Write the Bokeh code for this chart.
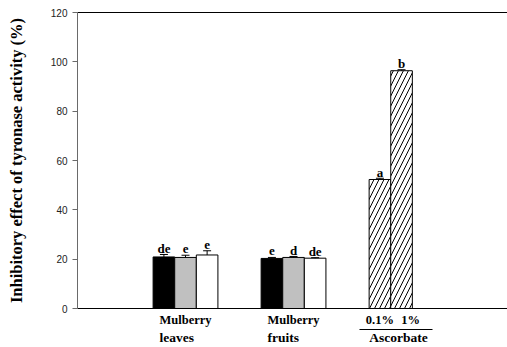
from bokeh.core.properties import value
from bokeh.embed import file_html
from bokeh.models import AllLabels, FixedTicker, LinearAxis, Range1d
from bokeh.plotting import figure
from bokeh.resources import INLINE

# Inhibition of tyrosinase activity (%), mean and SD, with significance letters
groups = ["Mulberry leaves", "Mulberry fruits", "Ascorbate"]
leaves_mean = [20.9, 20.7, 21.7]
leaves_err = [1.0, 0.9, 1.7]
leaves_sig = ["de", "e", "e"]
fruits_mean = [20.3, 20.7, 20.4]
fruits_err = [0.4, 0.4, 0.2]
fruits_sig = ["e", "d", "de"]
ascorbate_mean = [52.3, 96.4]
ascorbate_err = [0.5, 0.4]
ascorbate_sig = ["a", "b"]
ascorbate_conc = ["0.1%", "1%"]
extract_fills = ["black", "#c0c0c0", "white"]
y_ticks = [0, 20, 40, 60, 80, 100, 120]

SERIF = "Liberation Serif"
slot_offsets = [-0.2, 0.0, 0.2]
bar_width = 0.2
cap_half = 0.037

p = figure(
    width=507, height=347,
    output_backend="svg", toolbar_location=None,
    x_range=Range1d(0, 3.981), y_range=Range1d(0, 120),
    x_axis_location="above",
    min_border_left=77, min_border_right=0, min_border_top=12, min_border_bottom=37,
)
p.grid.visible = False
p.outline_line_color = None
p.background_fill_color = "white"
p.border_fill_color = "white"


def bare_axis(axis):
    axis.major_tick_line_color = None
    axis.minor_tick_line_color = None
    axis.major_tick_out = 0
    axis.major_tick_in = 0
    axis.major_label_policy = AllLabels()


# top frame line
top = p.xaxis[0]
top.ticker = FixedTicker(ticks=[])
top.axis_line_color = "black"
bare_axis(top)
top.major_label_standoff = 0

# left axis
ya = p.yaxis[0]
ya.ticker = FixedTicker(ticks=y_ticks)
ya.bounds = (0, 120)
ya.axis_line_color = "#6a6a6a"
ya.major_tick_line_color = "#6a6a6a"
ya.minor_tick_line_color = None
ya.major_tick_out = 5
ya.major_tick_in = 0
ya.major_label_standoff = 5
ya.major_label_text_font = "Liberation Sans"
ya.major_label_text_font_size = "10px"
ya.major_label_text_color = "#222222"
ya.axis_label = "Inhibitory effect of tyronase activity (%)"
ya.axis_label_standoff = 22
ya.axis_label_text_font = SERIF
ya.axis_label_text_font_style = "bold"
ya.axis_label_text_font_size = "16.5px"
ya.axis_label_text_color = "black"

# category labels: first row (with the x axis line), underline, second row
group_x = [1, 2, 3]
first_words = [g.split(" ")[0] for g in groups[:2]]
second_words = [g.split(" ")[1] for g in groups[:2]]
asc_x = [group_x[2] + slot_offsets[k] for k in range(len(ascorbate_mean))]

row1_ticks = group_x[:2] + [asc_x[0], asc_x[1] + 0.085]
row1_text = first_words + ascorbate_conc
row1 = LinearAxis(ticker=FixedTicker(ticks=row1_ticks),
                  major_label_overrides=dict(zip(row1_ticks, row1_text)))
bare_axis(row1)
row1.axis_line_color = "black"
row1.major_label_standoff = 4
row1.major_label_text_font = SERIF
row1.major_label_text_font_style = "bold"
row1.major_label_text_font_size = "12.5px"
row1.major_label_text_color = "black"
p.add_layout(row1, "below")

underline = LinearAxis(ticker=FixedTicker(ticks=[]), bounds=(2.611, 3.287))
bare_axis(underline)
underline.axis_line_color = "black"
underline.major_label_standoff = 0
p.add_layout(underline, "below")

row2_ticks = [group_x[0] - 0.081, group_x[1] - 0.095, 2.972]
row2_text = second_words + [groups[2]]
row2 = LinearAxis(ticker=FixedTicker(ticks=row2_ticks),
                  major_label_overrides=dict(zip(row2_ticks, row2_text)))
bare_axis(row2)
row2.axis_line_color = None
row2.major_label_standoff = 0
row2.major_label_text_font = SERIF
row2.major_label_text_font_style = "bold"
row2.major_label_text_font_size = "13.5px"
row2.major_label_text_color = "black"
p.add_layout(row2, "below")

# extract bars (leaves, fruits): three treatments per group
ext_x, ext_top, ext_err, ext_sig, ext_fill = [], [], [], [], []
for g, (means, errs, sigs) in enumerate(
        [(leaves_mean, leaves_err, leaves_sig), (fruits_mean, fruits_err, fruits_sig)]):
    for k in range(len(means)):
        ext_x.append(group_x[g] + slot_offsets[k])
        ext_top.append(means[k])
        ext_err.append(errs[k])
        ext_sig.append(sigs[k])
        ext_fill.append(extract_fills[k])

p.vbar(x=ext_x, top=ext_top, bottom=0, width=bar_width,
       fill_color=ext_fill, line_color="black", line_width=1)

# ascorbate bars (hatched)
p.vbar(x=asc_x, top=ascorbate_mean, bottom=0, width=bar_width,
       fill_color="white", line_color="black", line_width=1,
       hatch_pattern="/", hatch_color="black", hatch_scale=10, hatch_weight=1)

all_x = ext_x + asc_x
all_mean = ext_top + ascorbate_mean
all_err = ext_err + ascorbate_err
all_sig = ext_sig + ascorbate_sig
all_hi = [m + e for m, e in zip(all_mean, all_err)]

# upper error bars with caps
p.segment(x0=all_x, y0=all_mean, x1=all_x, y1=all_hi, line_color="black", line_width=1)
p.segment(x0=[x - cap_half for x in all_x], y0=all_hi,
          x1=[x + cap_half for x in all_x], y1=all_hi, line_color="black", line_width=1)

# significance letters
p.text(x=all_x, y=all_hi, text=all_sig, y_offset=-6,
       text_font=value(SERIF), text_font_style="bold", text_font_size="13px",
       text_align="center", text_baseline="alphabetic", text_color="black")

open("out.html", "w").write(file_html(p, INLINE))
